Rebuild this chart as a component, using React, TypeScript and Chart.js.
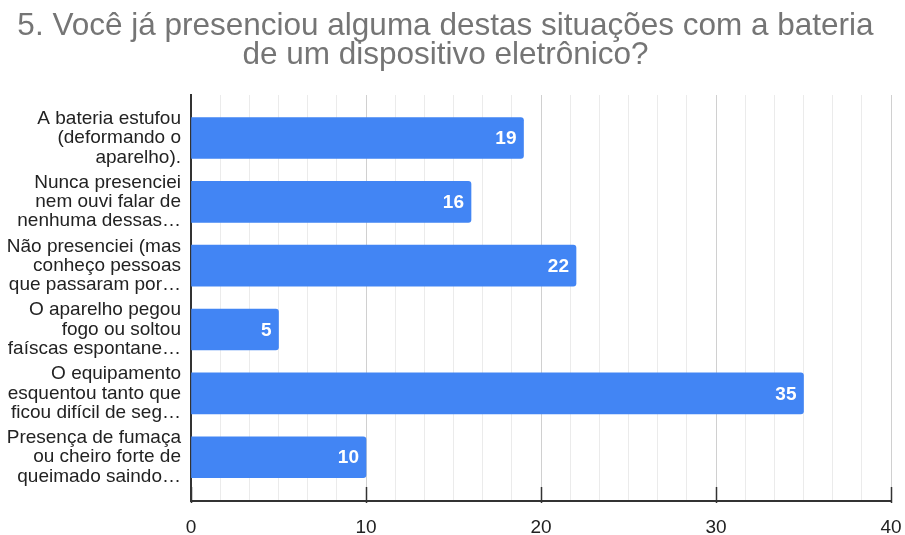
import React, { useEffect, useRef } from "react";
import { Chart, registerables } from "chart.js";

Chart.register(...registerables);

const titleLines = [
  "5. Você já presenciou alguma destas situações com a bateria",
  "de um dispositivo eletrônico?",
];

const categories: string[][] = [
  ["A bateria estufou", "(deformando o", "aparelho)."],
  ["Nunca presenciei", "nem ouvi falar de", "nenhuma dessas…"],
  ["Não presenciei (mas", "conheço pessoas", "que passaram por…"],
  ["O aparelho pegou", "fogo ou soltou", "faíscas espontane…"],
  ["O equipamento", "esquentou tanto que", "ficou difícil de seg…"],
  ["Presença de fumaça", "ou cheiro forte de", "queimado saindo…"],
];

const values = [19, 16, 22, 5, 35, 10];

const xTickLabels = [0, 10, 20, 30, 40];
const minorPerMajor = 6;

const FONT = "'Liberation Sans', Arial, sans-serif";

const valueLabelPlugin = {
  id: "valueLabels",
  afterDatasetsDraw(chart: any) {
    const ctx = chart.ctx;
    const meta = chart.getDatasetMeta(0);
    ctx.save();
    ctx.font = `bold 19px ${FONT}`;
    ctx.fillStyle = "#ffffff";
    ctx.textAlign = "right";
    ctx.textBaseline = "middle";
    meta.data.forEach((el: any, i: number) => {
      ctx.fillText(String(values[i]), el.x - 7, el.y + 1);
    });
    ctx.restore();
  },
};

const majorTickPlugin = {
  id: "majorTicks",
  afterDraw(chart: any) {
    const ctx = chart.ctx;
    const xs = chart.scales.x;
    const area = chart.chartArea;
    ctx.save();
    ctx.strokeStyle = "#333333";
    ctx.lineWidth = 1.5;
    xTickLabels.forEach((v) => {
      const px = Math.round(xs.getPixelForValue(v)) + 0.5;
      ctx.beginPath();
      ctx.moveTo(px, area.bottom - 14);
      ctx.lineTo(px, area.bottom + 2);
      ctx.stroke();
    });
    ctx.restore();
  },
};

export default function App() {
  const ref = useRef<HTMLCanvasElement | null>(null);

  useEffect(() => {
    if (!ref.current) return;
    const maxX = xTickLabels[xTickLabels.length - 1];
    const step = (xTickLabels[1] - xTickLabels[0]) / minorPerMajor;
    const chart = new Chart(ref.current, {
      type: "bar",
      data: {
        datasets: [
          {
            data: values.map((v, i) => ({ x: v, y: i })),
            backgroundColor: "#4285f4",
            borderRadius: 3,
            barThickness: 41,
          },
        ],
      },
      plugins: [valueLabelPlugin, majorTickPlugin],
      options: {
        indexAxis: "y",
        animation: false,
        responsive: false,
        layout: { padding: { left: 0, right: 14, top: 0, bottom: 0 } },
        plugins: {
          legend: { display: false },
          tooltip: { enabled: false },
          title: {
            display: true,
            text: titleLines,
            color: "#757575",
            font: { family: FONT, size: 31.5, weight: "normal", lineHeight: 0.9 },
            padding: { top: 12.5, bottom: 25.8 },
          },
        },
        scales: {
          x: {
            type: "linear",
            min: 0,
            max: maxX,
            afterBuildTicks: (scale: any) => {
              const n = Math.round(maxX / step);
              const t = [];
              for (let i = 0; i <= n; i++) t.push({ value: i * step });
              scale.ticks = t;
            },
            afterFit: (scale: any) => {
              scale.height = 34;
              scale.paddingLeft = 0;
              scale.paddingRight = 0;
            },
            ticks: {
              autoSkip: false,
              maxRotation: 0,
              padding: 15,
              color: "#222222",
              font: { family: FONT, size: 19 },
              callback: (v: any) => {
                const r = Math.round(Number(v));
                const hit = xTickLabels.find((t) => Math.abs(t - Number(v)) < 1e-6);
                return hit !== undefined ? String(r) : "";
              },
            },
            grid: {
              drawTicks: false,
              color: (c: any) => {
                const v = c.tick ? c.tick.value : 0;
                const isMajor = xTickLabels.some((t) => Math.abs(t - v) < 1e-6);
                return isMajor ? "#d0d0d0" : "#ebebeb";
              },
              lineWidth: 1,
            },
            border: { display: true, color: "#333333", width: 2 },
          },
          y: {
            type: "linear",
            reverse: true,
            offset: false,
            min: -0.674,
            max: 5.686,
            afterBuildTicks: (scale: any) => {
              scale.ticks = categories.map((_, i) => ({ value: i }));
            },
            afterFit: (scale: any) => {
              scale.width = 191;
              scale.paddingTop = 0;
              scale.paddingBottom = 0;
            },
            ticks: {
              autoSkip: false,
              padding: 10,
              color: "#222222",
              font: { family: FONT, size: 19, lineHeight: 1.02 },
              callback: (v: any) => categories[Math.round(Number(v))] ?? "",
            },
            grid: { display: false, drawTicks: false },
            border: { display: true, color: "#333333", width: 2 },
          },
        },
      },
    } as any);
    return () => chart.destroy();
  }, []);

  return (
    <div style={{ position: "fixed", left: 0, top: 0, width: 905, height: 535, background: "#fff" }}>
      <canvas ref={ref} width={905} height={535} />
    </div>
  );
}
